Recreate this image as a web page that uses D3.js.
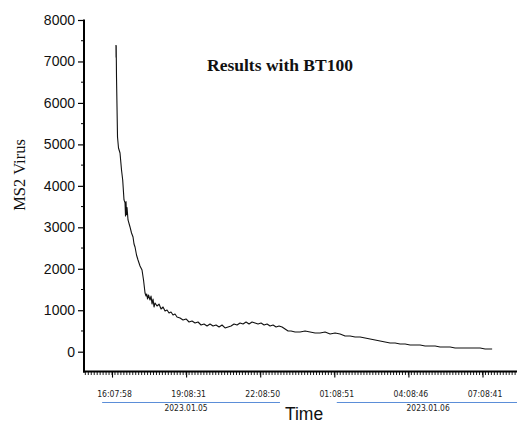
<!DOCTYPE html>
<html><head><meta charset="utf-8">
<script src="https://cdn.jsdelivr.net/npm/d3@7/dist/d3.min.js"></script>
<style>html,body{margin:0;padding:0;background:#fff;}svg{display:block;}</style>
</head><body>
<svg id="c" width="517" height="424"></svg>
<script>
// hours since 16:07:58 (2023.01.05)
const hours = [0.160,0.165,0.170,0.175,0.182,0.223,0.263,0.324,0.385,0.433,0.486,0.527,0.547,0.567,0.587,0.608,0.648,0.729,0.790,0.851,0.891,0.932,0.992,1.053,1.134,1.215,1.276,1.337,1.377,1.406,1.438,1.478,1.539,1.580,1.620,1.661,1.701,1.742,1.823,1.904,1.985,2.066,2.147,2.228,2.309,2.389,2.470,2.551,2.632,2.754,2.876,2.997,3.119,3.240,3.362,3.483,3.605,3.726,3.848,3.969,4.091,4.212,4.334,4.455,4.577,4.698,4.820,4.941,5.063,5.184,5.306,5.427,5.549,5.670,5.792,5.913,6.035,6.156,6.278,6.399,6.521,6.642,6.764,6.885,7.007,7.128,7.250,7.412,7.614,7.817,8.019,8.222,8.424,8.627,8.829,9.032,9.234,9.437,9.639,9.842,10.044,10.247,10.449,10.652,10.854,11.057,11.259,11.462,11.664,11.867,12.069,12.272,12.474,12.677,12.879,13.082,13.284,13.487,13.689,13.892,14.094,14.297,14.499,14.702,14.904,15.107,15.309,15.390];
const virus = [7395,7100,7380,7050,6625,5178,4913,4793,4383,4142,3660,3588,3274,3619,3306,3475,3177,3008,2863,2767,2598,2525,2332,2212,2067,1971,1729,1416,1343,1392,1271,1368,1247,1343,1150,1271,1078,1175,1102,1150,1030,1078,982,1006,933,957,885,909,837,813,765,789,716,740,692,716,644,668,620,668,620,644,596,644,572,596,620,668,644,692,668,716,668,716,692,668,692,644,668,620,644,596,620,596,548,499,499,475,475,499,475,451,451,475,427,451,427,379,379,355,355,330,306,282,258,234,210,210,186,186,162,162,162,137,137,137,113,113,113,89,89,89,89,89,89,65,65,65];

const xTickHours = [0,3,6,9,12,15];
const xTickLabels = ["16:07:58","19:08:31","22:08:50","01:08:51","04:08:46","07:08:41"];
const dateLabels = ["2023.01.05","2023.01.06"];
const dateSpans = [[-0.4,6.8],[9.1,16.4]]; // hours covered by the date bracket lines
const yTicks = [0,1000,2000,3000,4000,5000,6000,7000,8000];

const svg = d3.select("#c");
const x = d3.scaleLinear().domain([-1.134, 16.397]).range([84, 517]);
const y = d3.scaleLinear().domain([-480, 8000]).range([371.6, 20]);

// line
const line = d3.line().x((d,i)=>x(hours[i])).y(d=>y(d));
svg.append("path").datum(virus).attr("d", line)
  .attr("fill","none").attr("stroke","#111").attr("stroke-width",1.1).attr("stroke-linejoin","round");

// Y axis
const yAxis = d3.axisLeft(y).tickValues(yTicks).tickSize(6).tickPadding(3).tickFormat(d3.format("d"));
const gy = svg.append("g").attr("transform","translate(84,0)").call(yAxis);
gy.select(".domain").remove();
gy.selectAll(".tick line").attr("stroke","#000").attr("stroke-width",1.2);
gy.selectAll(".tick text").attr("font-family","Liberation Sans, Arial, sans-serif").attr("font-size",14).attr("fill","#111");
const yMinor = d3.range(500, 8000, 1000);
svg.append("g").selectAll("line").data(yMinor).join("line")
  .attr("x1",81).attr("x2",84).attr("y1",d=>y(d)).attr("y2",d=>y(d)).attr("stroke","#000").attr("stroke-width",1);
svg.append("line").attr("x1",84).attr("x2",84).attr("y1",y(8000)-0.5).attr("y2",372.6).attr("stroke","#000").attr("stroke-width",2);

// X axis
svg.append("line").attr("x1",83).attr("x2",517).attr("y1",371.6).attr("y2",371.6).attr("stroke","#000").attr("stroke-width",2);
const xMinor = d3.range(-9, 137).map(i=>i*0.12).filter(h=>x(h)>84.5 && x(h)<517);
svg.append("g").selectAll("line").data(xMinor).join("line")
  .attr("x1",d=>x(d)).attr("x2",d=>x(d)).attr("y1",372).attr("y2",375)
  .attr("stroke","#000").attr("stroke-width",0.9);
const xAxis = d3.axisBottom(x).tickValues(xTickHours).tickSize(6).tickPadding(13)
  .tickFormat((d,i)=>xTickLabels[i]);
const gx = svg.append("g").attr("transform","translate(0,371.6)").call(xAxis);
gx.select(".domain").remove();
gx.selectAll(".tick line").attr("stroke","#000").attr("stroke-width",1.1);
gx.selectAll(".tick text").attr("font-family","DejaVu Sans Condensed, DejaVu Sans, sans-serif").attr("font-size",8.6).attr("fill","#222").attr("dx",2);

// date brackets
svg.append("g").selectAll("line").data(dateSpans).join("line")
  .attr("x1",d=>x(d[0])).attr("x2",d=>x(d[1])).attr("y1",402.5).attr("y2",402.5)
  .attr("stroke","#5b8ed8").attr("stroke-width",1);
svg.append("g").selectAll("text").data(dateLabels).join("text")
  .attr("x",(d,i)=>i===0?x(3):x(12.8)).attr("y",410.5).attr("text-anchor","middle")
  .attr("font-family","DejaVu Sans Condensed, DejaVu Sans, sans-serif").attr("font-size",8.4).attr("fill","#222")
  .text(d=>d);

// axis titles
svg.append("text").attr("x",304).attr("y",420).attr("text-anchor","middle")
  .attr("font-family","Liberation Sans, Arial, sans-serif").attr("font-size",17.5).attr("fill","#111").text("Time");
svg.append("text").attr("transform","translate(25,175) rotate(-90)").attr("text-anchor","middle")
  .attr("font-family","Liberation Serif, Times New Roman, serif").attr("font-size",16.5).attr("fill","#111").text("MS2 Virus");
svg.append("text").attr("x",280).attr("y",71).attr("text-anchor","middle")
  .attr("font-family","Liberation Serif, Times New Roman, serif").attr("font-weight","bold").attr("font-size",17.5).attr("fill","#111").text("Results with BT100");
</script>
</body></html>
